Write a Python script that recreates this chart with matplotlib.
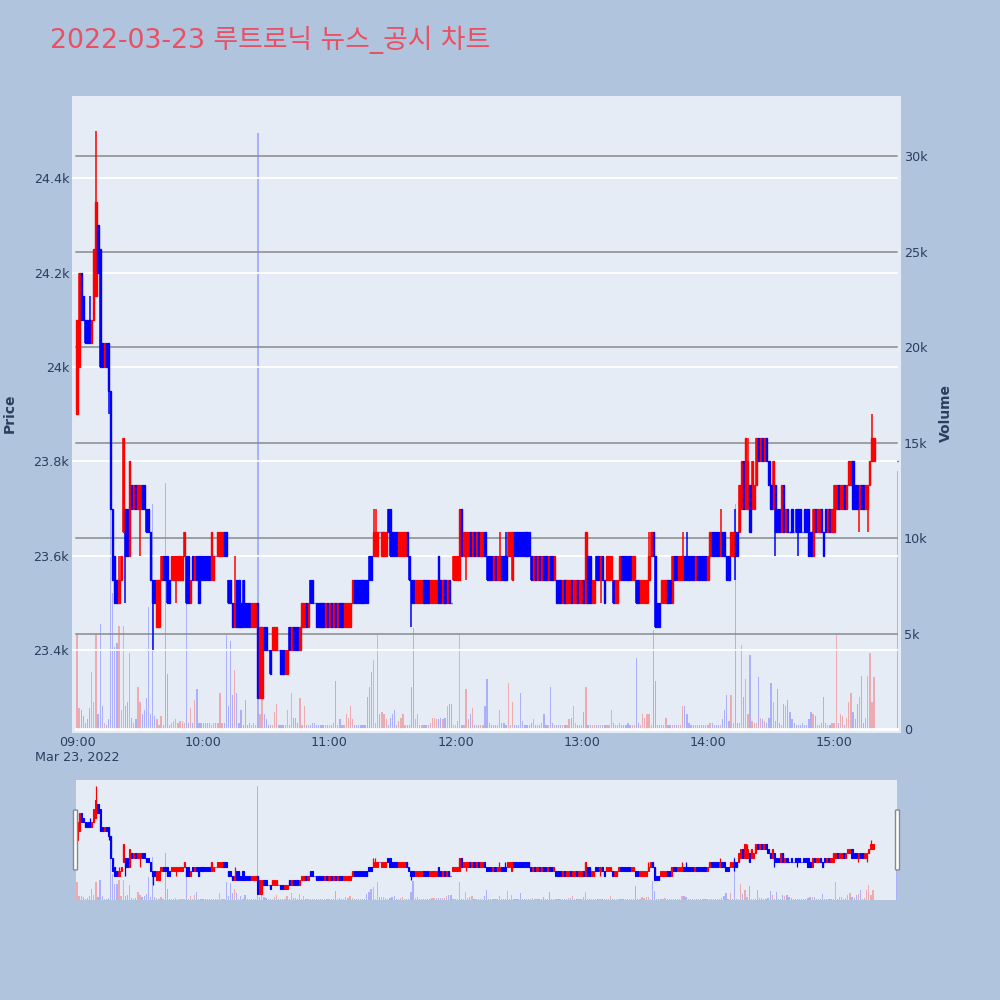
import numpy as np
import matplotlib.pyplot as plt
from matplotlib.patches import FancyBboxPatch

plt.rcParams['font.family'] = ['DejaVu Sans', 'Noto Sans CJK KR']

# ---- 1-minute candles (prices in KRW) ----
# 09:00 - 09:59
open_0900 = [23900, 24000, 24200, 24150, 24100, 24100, 24100, 24050, 24100, 24150,
             24300, 24250, 24050, 24000, 24050, 24050, 23950, 23700, 23600, 23550,
             23500, 23550, 23650, 23700, 23700, 23600, 23750, 23700, 23750, 23700,
             23700, 23750, 23750, 23700, 23700, 23650, 23550, 23550, 23450, 23450,
             23550, 23600, 23600, 23600, 23550, 23550, 23550, 23550, 23550, 23550,
             23550, 23600, 23600, 23600, 23500, 23600, 23550, 23600, 23600, 23600]
close_0900 = [24100, 24200, 24100, 24100, 24050, 24050, 24050, 24100, 24250, 24350,
              24200, 24000, 24000, 24050, 24000, 23950, 23700, 23550, 23500, 23500,
              23550, 23600, 23850, 23600, 23600, 23800, 23700, 23750, 23700, 23750,
              23750, 23700, 23700, 23650, 23650, 23550, 23500, 23500, 23550, 23550,
              23600, 23550, 23550, 23500, 23500, 23600, 23600, 23600, 23600, 23600,
              23600, 23650, 23500, 23500, 23550, 23550, 23600, 23550, 23500, 23550]
# 10:00 - 10:59
open_1000 = [23600, 23600, 23600, 23600, 23550, 23550, 23600, 23600, 23600, 23600,
             23650, 23650, 23550, 23550, 23500, 23450, 23550, 23550, 23500, 23550,
             23500, 23500, 23500, 23450, 23450, 23450, 23500, 23300, 23300, 23450,
             23450, 23400, 23400, 23400, 23400, 23400, 23400, 23400, 23400, 23350,
             23350, 23450, 23400, 23450, 23450, 23450, 23400, 23450, 23450, 23500,
             23450, 23550, 23550, 23500, 23500, 23500, 23500, 23500, 23450, 23500]
close_1000 = [23550, 23550, 23550, 23550, 23650, 23600, 23600, 23650, 23650, 23650,
              23600, 23600, 23500, 23500, 23450, 23500, 23450, 23450, 23450, 23450,
              23450, 23450, 23450, 23500, 23500, 23500, 23300, 23450, 23450, 23400,
              23400, 23400, 23350, 23450, 23450, 23450, 23400, 23350, 23350, 23400,
              23400, 23400, 23450, 23400, 23400, 23400, 23450, 23500, 23500, 23450,
              23500, 23500, 23500, 23500, 23450, 23450, 23450, 23450, 23500, 23450]
# 11:00 - 11:59
open_1100 = [23450, 23500, 23450, 23500, 23450, 23500, 23500, 23450, 23450, 23450,
             23450, 23500, 23550, 23550, 23550, 23550, 23550, 23550, 23550, 23600,
             23600, 23600, 23600, 23600, 23650, 23600, 23600, 23600, 23700, 23700,
             23650, 23650, 23650, 23600, 23600, 23600, 23600, 23650, 23600, 23550,
             23550, 23500, 23500, 23500, 23500, 23550, 23550, 23550, 23500, 23500,
             23500, 23500, 23600, 23550, 23500, 23550, 23500, 23550, 23500, 23550]
close_1100 = [23500, 23450, 23500, 23450, 23500, 23450, 23450, 23500, 23500, 23500,
              23500, 23550, 23500, 23500, 23500, 23500, 23500, 23500, 23500, 23550,
              23550, 23650, 23650, 23650, 23650, 23650, 23650, 23650, 23650, 23600,
              23600, 23600, 23600, 23650, 23650, 23650, 23650, 23600, 23550, 23500,
              23500, 23550, 23550, 23550, 23550, 23500, 23500, 23500, 23550, 23550,
              23550, 23550, 23500, 23500, 23550, 23500, 23550, 23500, 23500, 23600]
# 12:00 - 12:59
open_1200 = [23550, 23550, 23550, 23700, 23600, 23600, 23600, 23650, 23600, 23650,
             23600, 23650, 23600, 23600, 23650, 23600, 23600, 23600, 23550, 23600,
             23550, 23550, 23600, 23600, 23600, 23600, 23600, 23550, 23650, 23650,
             23650, 23650, 23650, 23650, 23650, 23650, 23600, 23550, 23600, 23550,
             23600, 23550, 23600, 23600, 23550, 23600, 23600, 23550, 23550, 23550,
             23550, 23500, 23550, 23500, 23500, 23550, 23500, 23500, 23550, 23500]
close_1200 = [23600, 23600, 23700, 23600, 23650, 23650, 23650, 23600, 23650, 23600,
              23650, 23600, 23650, 23650, 23600, 23550, 23550, 23550, 23600, 23550,
              23600, 23600, 23550, 23550, 23550, 23650, 23650, 23650, 23600, 23600,
              23600, 23600, 23600, 23600, 23600, 23600, 23550, 23600, 23550, 23600,
              23550, 23600, 23550, 23550, 23600, 23550, 23550, 23600, 23500, 23500,
              23500, 23550, 23500, 23550, 23550, 23500, 23550, 23550, 23500, 23550]
# 13:00 - 13:59
open_1300 = [23500, 23550, 23500, 23600, 23600, 23500, 23500, 23600, 23600, 23550,
             23600, 23550, 23550, 23550, 23550, 23550, 23500, 23500, 23550, 23600,
             23600, 23600, 23600, 23600, 23550, 23550, 23550, 23550, 23500, 23500,
             23500, 23500, 23550, 23600, 23650, 23600, 23500, 23500, 23500, 23500,
             23500, 23550, 23550, 23500, 23600, 23600, 23550, 23550, 23550, 23600,
             23600, 23600, 23600, 23600, 23550, 23600, 23600, 23600, 23600, 23600]
close_1300 = [23550, 23500, 23650, 23500, 23500, 23550, 23550, 23550, 23550, 23600,
              23550, 23500, 23600, 23600, 23600, 23500, 23550, 23550, 23600, 23550,
              23550, 23550, 23550, 23550, 23600, 23600, 23500, 23500, 23550, 23550,
              23550, 23550, 23600, 23650, 23600, 23450, 23450, 23450, 23550, 23550,
              23550, 23500, 23500, 23600, 23550, 23550, 23600, 23600, 23600, 23550,
              23550, 23550, 23550, 23550, 23600, 23550, 23550, 23550, 23550, 23550]
# 14:00 - 14:59
open_1400 = [23550, 23600, 23650, 23650, 23650, 23650, 23600, 23650, 23650, 23600,
             23600, 23600, 23600, 23650, 23650, 23650, 23700, 23800, 23700, 23700,
             23750, 23700, 23700, 23750, 23850, 23800, 23850, 23800, 23850, 23800,
             23750, 23700, 23750, 23700, 23700, 23650, 23750, 23650, 23700, 23650,
             23700, 23650, 23700, 23700, 23700, 23650, 23700, 23700, 23700, 23650,
             23600, 23700, 23650, 23650, 23700, 23650, 23700, 23650, 23700, 23650]
close_1400 = [23600, 23650, 23600, 23600, 23600, 23600, 23650, 23600, 23600, 23550,
              23550, 23650, 23650, 23600, 23600, 23750, 23800, 23700, 23850, 23800,
              23650, 23800, 23750, 23850, 23800, 23850, 23800, 23850, 23800, 23750,
              23700, 23800, 23650, 23650, 23650, 23750, 23650, 23700, 23650, 23650,
              23650, 23650, 23650, 23650, 23650, 23650, 23650, 23650, 23600, 23600,
              23700, 23650, 23700, 23700, 23650, 23600, 23650, 23700, 23650, 23700]
# 15:00 - 15:19 and the 15:30 closing print
open_1500 = [23650, 23700, 23750, 23700, 23700, 23750, 23700, 23750, 23750, 23800,
             23750, 23750, 23700, 23750, 23750, 23700, 23700, 23750, 23800, 23800,
             23800]
close_1500 = [23750, 23750, 23700, 23750, 23750, 23700, 23750, 23800, 23800, 23700,
              23700, 23700, 23750, 23700, 23700, 23750, 23750, 23800, 23850, 23850,
              23800]

# wicks that reach beyond the body (minute index -> price)
wick_high = {6: 24150, 9: 24500, 20: 23600, 75: 23600, 141: 23700, 142: 23700,
             201: 23650, 204: 23650, 272: 23650, 288: 23650, 290: 23650,
             306: 23700, 313: 23700, 319: 23850, 378: 23900}
wick_low = {15: 23900, 23: 23500, 30: 23600, 36: 23400, 47: 23500, 159: 23450,
            185: 23550, 249: 23500, 313: 23550, 332: 23600, 343: 23600,
            372: 23650, 376: 23650}

# volume per minute, in hundreds of shares
vol_0900 = [50, 11, 10, 7, 3, 5, 11, 30, 14, 50, 8, 55, 12, 3, 2, 5, 127, 71, 43, 45,
            54, 10, 54, 12, 14, 40, 6, 3, 5, 22, 14, 8, 10, 16, 64, 8, 118, 7, 5, 2,
            7, 2, 129, 29, 2, 3, 4, 5, 3, 4, 4, 3, 74, 3, 11, 3, 15, 21, 3, 3]
vol_1000 = [3, 3, 3, 3, 2, 3, 3, 3, 19, 3, 3, 49, 12, 46, 18, 31, 19, 3, 10, 2,
            15, 2, 3, 2, 3, 2, 312, 8, 33, 8, 5, 2, 2, 2, 9, 13, 2, 2, 2, 2,
            10, 2, 19, 6, 6, 3, 16, 2, 12, 2, 2, 2, 3, 3, 2, 2, 2, 2, 2, 2]
vol_1100 = [2, 2, 3, 25, 2, 5, 2, 2, 8, 6, 12, 5, 2, 2, 2, 2, 2, 2, 17, 22,
            30, 36, 3, 49, 8, 9, 8, 5, 2, 6, 8, 10, 2, 4, 6, 8, 2, 2, 2, 22,
            53, 5, 8, 2, 2, 2, 2, 2, 3, 6, 6, 5, 5, 6, 5, 6, 12, 13, 13, 2]
vol_1200 = [2, 4, 50, 2, 2, 21, 5, 8, 11, 2, 2, 2, 2, 2, 12, 26, 3, 2, 2, 2,
            2, 10, 3, 3, 2, 24, 2, 14, 2, 2, 2, 19, 4, 2, 2, 2, 3, 5, 2, 2,
            2, 3, 8, 2, 2, 22, 3, 2, 2, 2, 2, 2, 2, 2, 5, 6, 12, 3, 2, 2]
vol_1300 = [2, 9, 22, 2, 2, 2, 2, 2, 2, 2, 2, 2, 2, 2, 10, 3, 2, 2, 3, 2,
            2, 2, 3, 2, 2, 2, 37, 3, 2, 8, 6, 8, 8, 2, 52, 25, 2, 2, 2, 2,
            6, 2, 2, 2, 2, 2, 2, 2, 12, 12, 8, 3, 2, 2, 2, 2, 2, 2, 2, 2]
vol_1400 = [2, 3, 3, 2, 2, 2, 2, 5, 10, 18, 4, 18, 3, 118, 3, 3, 44, 17, 26, 8,
            39, 4, 3, 3, 27, 6, 5, 4, 3, 6, 24, 14, 4, 21, 3, 2, 13, 12, 15, 9,
            5, 3, 2, 2, 2, 3, 2, 2, 5, 9, 8, 7, 2, 2, 3, 17, 3, 2, 2, 3]
vol_1500 = [3, 49, 3, 8, 7, 2, 6, 14, 19, 9, 5, 13, 17, 28, 3, 6, 28, 40, 14, 27,
            135]

closing_minute = 390  # 15:30 auction
tick_minutes = [0, 60, 120, 180, 240, 300, 360]
tick_labels = ['09:00', '10:00', '11:00', '12:00', '13:00', '14:00', '15:00']
price_ticks = [23400, 23600, 23800, 24000, 24200, 24400]
price_labels = ['23.4k', '23.6k', '23.8k', '24k', '24.2k', '24.4k']
vol_ticks = [0, 5000, 10000, 15000, 20000, 25000, 30000]
vol_labels = ['0', '5k', '10k', '15k', '20k', '25k', '30k']

# ---- assemble ----
o = np.array(open_0900 + open_1000 + open_1100 + open_1200 + open_1300 + open_1400 + open_1500)
c = np.array(close_0900 + close_1000 + close_1100 + close_1200 + close_1300 + close_1400 + close_1500)
v = np.array(vol_0900 + vol_1000 + vol_1100 + vol_1200 + vol_1300 + vol_1400 + vol_1500) * 100
minutes = np.r_[np.arange(len(o) - 1), closing_minute]
hi = np.maximum(o, c).astype(float)
lo = np.minimum(o, c).astype(float)
for k, p in wick_high.items():
    hi[k] = max(hi[k], p)
for k, p in wick_low.items():
    lo[k] = min(lo[k], p)

up = c > o
col = np.where(up, '#ff0000', '#0000ff')
vol_col = [(1, 0, 0, 0.28) if u else (0, 0, 1, 0.25) for u in up]

BG = '#b0c4de'
PLOT_BG = '#e5ecf6'
TXT = '#2a3f5f'


def fx(px):
    return px / 1000


def fy(px):
    return 1 - px / 1000


fig = plt.figure(figsize=(10, 10), dpi=100, facecolor=BG)

# main panel: volume underneath, price on top
rect = [fx(72), fy(733), fx(901 - 72), (733 - 96) / 1000]
ax_v = fig.add_axes(rect, facecolor=PLOT_BG)
ax_p = fig.add_axes(rect, facecolor='none', sharex=ax_v)

x_lo, x_hi = -2.38, 391.8
ax_v.set_xlim(x_lo, x_hi)
ax_v.set_ylim(-209, 33144)
ax_p.set_ylim(23225, 24574)

ax_v.bar(minutes, v, width=0.6, color=vol_col, linewidth=0, zorder=1)
for y in vol_ticks[1:]:
    ax_v.axhline(y, xmin=0.005, xmax=0.995, color='#8a8a8a', lw=1.1, zorder=2)
ax_v.axhline(0, xmin=0.005, xmax=0.995, color='white', lw=2, zorder=2)

for y in price_ticks:
    ax_p.axhline(y, xmax=0.995, color='white', lw=1.3, zorder=1)
ax_p.vlines(minutes, lo, hi, colors=col, lw=1.1, zorder=3)
ax_p.bar(minutes, np.abs(c - o), bottom=np.minimum(o, c), width=0.55,
         color=col, edgecolor=col, linewidth=1.0, zorder=4)

for a in (ax_v, ax_p):
    for s in a.spines.values():
        s.set_visible(False)

ax_v.yaxis.tick_right()
ax_v.set_yticks(vol_ticks)
ax_v.set_yticklabels(vol_labels)
ax_v.tick_params(axis='y', length=0, pad=2, labelsize=9.2, labelcolor=TXT)
ax_v.set_xticks(tick_minutes)
ax_v.set_xticklabels(tick_labels)
ax_v.tick_params(axis='x', length=0, pad=2, labelsize=9.2, labelcolor=TXT)

ax_p.set_yticks(price_ticks)
ax_p.set_yticklabels(price_labels)
ax_p.tick_params(axis='y', length=0, pad=2, labelsize=9.2, labelcolor=TXT)
ax_p.tick_params(axis='x', bottom=False, labelbottom=False)

fig.text(fx(77), fy(757), 'Mar 23, 2022', ha='center', va='center', fontsize=9.2, color=TXT)
fig.text(fx(10), fy(413), 'Price', rotation=90, ha='center', va='center',
         fontsize=10, fontweight='bold', color=TXT)
fig.text(fx(946), fy(413), 'Volume', rotation=90, ha='center', va='center',
         fontsize=10, fontweight='bold', color=TXT)
fig.text(fx(50), fy(40), '2022-03-23 루트로닉 뉴스_공시 차트', ha='left', va='center',
         fontsize=19.3, color='#e85064')

# range slider
srect = [fx(76), fy(900), fx(897 - 76), 0.12]
sv = fig.add_axes(srect, facecolor=PLOT_BG)
sp = fig.add_axes(srect, facecolor='none', sharex=sv)
sv.set_xlim(-0.48, 390.4)
sv.set_ylim(0, 32840)
sp.set_ylim(23233, 24567)
sv.bar(minutes, v, width=0.6, color=vol_col, linewidth=0)
sp.vlines(minutes, lo, hi, colors=col, lw=0.9)
sp.bar(minutes, np.abs(c - o), bottom=np.minimum(o, c), width=0.55,
       color=col, edgecolor=col, linewidth=0.8)
for a in (sv, sp):
    a.set_xticks([])
    a.set_yticks([])
    for s in a.spines.values():
        s.set_visible(False)

for hx in (73.5, 895.5):
    fig.patches.append(FancyBboxPatch((fx(hx), fy(870)), fx(4), 0.06,
                                      boxstyle='round,pad=0,rounding_size=0.001',
                                      transform=fig.transFigure, facecolor='white',
                                      edgecolor='#888888', lw=1))

fig.savefig('out.png', dpi=100, facecolor=BG)
